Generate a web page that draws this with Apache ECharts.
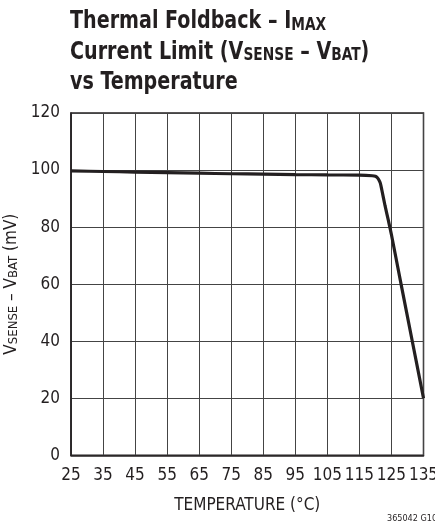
<!DOCTYPE html>
<html>
<head>
<meta charset="utf-8">
<script src="https://cdn.jsdelivr.net/npm/echarts@6/dist/echarts.min.js"></script>
<style>
html,body{margin:0;padding:0;background:#fff;}
#c{width:435px;height:522px;}
</style>
</head>
<body>
<div id="c"></div>
<script>
var temperature = [25, 35, 45, 55, 65, 75, 85, 95, 105, 115, 119, 120, 120.5, 121, 121.5, 122, 123, 124, 125, 128, 131.5, 135];
var vsense = [99.7, 99.5, 99.3, 99.1, 98.9, 98.7, 98.6, 98.4, 98.3, 98.2, 98.0, 97.8, 97.4, 96.7, 95.5, 93.0, 87.5, 82.5, 77.3, 60, 40, 20];
var xTicks = [25, 35, 45, 55, 65, 75, 85, 95, 105, 115, 125, 135];
var yTicks = [0, 20, 40, 60, 80, 100, 120];

var FONT = '"Liberation Sans Narrow", "DejaVu Sans Condensed", Arial, sans-serif';
var INK = '#231f20';

var chart = echarts.init(document.getElementById('c'));
chart.setOption({
  animation: false,
  backgroundColor: '#fff',
  grid: {left: 71, top: 113, right: 11.5, bottom: 66.7, show: true, borderColor: INK, borderWidth: 1.5,
         containLabel: false, outerBoundsMode: 'none'},
  xAxis: {
    type: 'value', min: xTicks[0], max: xTicks[xTicks.length - 1], interval: 10,
    name: 'TEMPERATURE (°C)', nameLocation: 'middle', nameGap: 42,
    nameTextStyle: {fontFamily: FONT, fontSize: 17, color: INK},
    axisLine: {lineStyle: {color: INK, width: 1.5}},
    axisTick: {show: false},
    axisLabel: {fontFamily: FONT, fontSize: 17, color: INK, margin: 12, showMaxLabel: true, showMinLabel: true, hideOverlap: false},
    splitLine: {show: true, lineStyle: {color: '#444', width: 1}}
  },
  yAxis: {
    type: 'value', min: yTicks[0], max: yTicks[yTicks.length - 1], interval: 20,
    name: '{n|V}{s|SENSE}{n| – V}{s|BAT}{n| (mV)}', nameLocation: 'middle', nameGap: 48, nameRotate: 90,
    nameTextStyle: {
      rich: {
        n: {fontFamily: FONT, fontSize: 17, color: INK, lineHeight: 20, verticalAlign: 'bottom'},
        s: {fontFamily: FONT, fontSize: 13, color: INK, lineHeight: 12, verticalAlign: 'bottom'}
      }
    },
    axisLine: {show: true, lineStyle: {color: INK, width: 1.5}},
    axisTick: {show: false},
    axisLabel: {fontFamily: FONT, fontSize: 17, color: INK, margin: 11},
    splitLine: {show: true, lineStyle: {color: '#444', width: 1}}
  },
  graphic: [{
    type: 'text', left: 70, top: 9, scaleX: 0.85, scaleY: 1,
    style: {
      text: '{b|Thermal Foldback – I}{s|MAX}\n{b|Current Limit (V}{s|SENSE}{b| – V}{s|BAT}{b|)}\n{b|vs Temperature}',
      rich: {
        b: {fontFamily: FONT, fontWeight: 'bold', fontSize: 25, lineHeight: 30.5, fill: INK, verticalAlign: 'bottom'},
        s: {fontFamily: FONT, fontWeight: 'bold', fontSize: 18, lineHeight: 12, fill: INK, verticalAlign: 'bottom'}
      }
    }
  }, {
    type: 'text', left: 387, top: 514,
    style: {text: '365042 G10', font: '9px ' + FONT, fill: INK}
  }],
  series: [{
    type: 'line',
    data: temperature.map(function (t, i) { return [t, vsense[i]]; }),
    showSymbol: false,
    smooth: 0.3,
    lineStyle: {color: INK, width: 3.2},
    clip: true
  }]
});
</script>
</body>
</html>
